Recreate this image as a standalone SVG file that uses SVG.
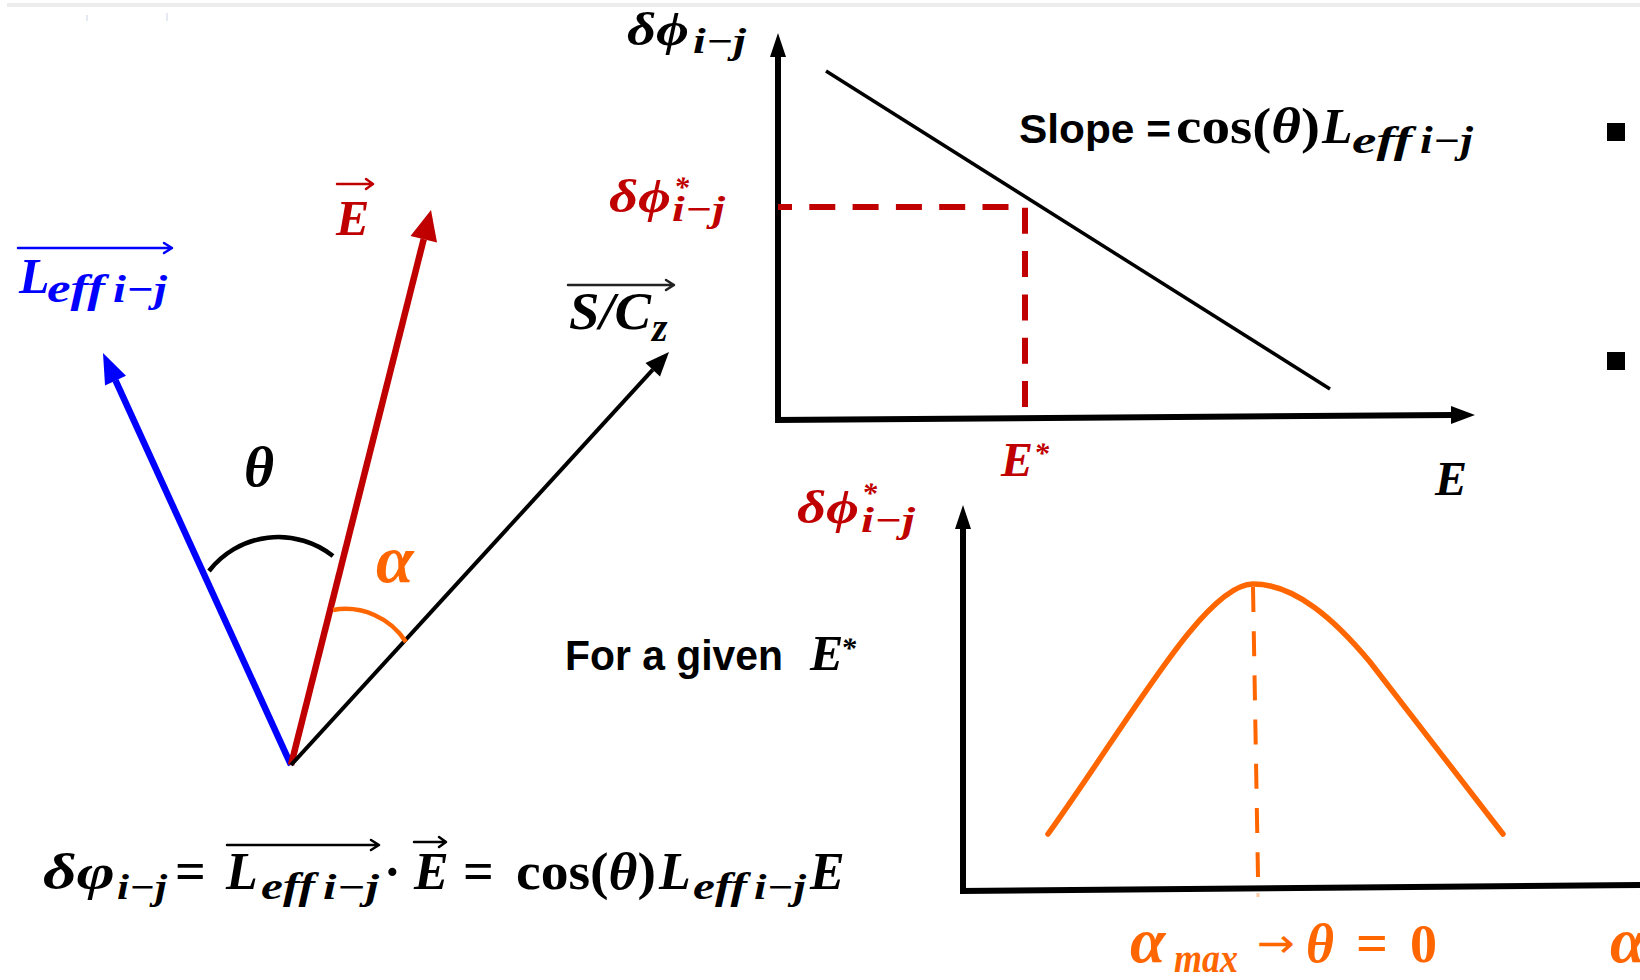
<svg xmlns="http://www.w3.org/2000/svg" width="1640" height="980" viewBox="0 0 1640 980">
<style>
.m{font-family:"Liberation Serif","DejaVu Serif",serif;font-weight:bold;font-style:italic}
.mu{font-family:"Liberation Serif","DejaVu Serif",serif;font-weight:bold;font-style:normal}
.ar{font-family:"DejaVu Sans","Noto Sans",sans-serif;font-weight:normal}
.s{font-family:"Liberation Sans",Arial,sans-serif;font-weight:bold}
.k{fill:#000}
.blue{fill:#0000ff}
.red{fill:#c00000}
.org{fill:#ff6600}
.ov{fill:none;stroke-width:2.5;stroke-linecap:round;stroke-linejoin:round}
.axis{fill:none;stroke:#000;stroke-width:6}
</style>
<rect width="1640" height="980" fill="#fff"/>
<path d="M7,5 H1640" stroke="#ececec" stroke-width="4"/>
<path d="M87,15 v6 M167,13 v8" stroke="#c9d2e4" stroke-width="1"/>

<g id="vectors">
  <g id="vec-leff">
    <line x1="291" y1="765" x2="115.5" y2="380.3" stroke="#0000ff" stroke-width="6.5"/>
    <polygon points="103,353 126,375.7 105,385.5" fill="#0000ff"/>
  </g>
  <g id="vec-e">
    <line x1="291" y1="765" x2="423.7" y2="239.1" stroke="#c00000" stroke-width="6.5"/>
    <polygon points="431,210 437,242.5 410.5,236" fill="#c00000"/>
  </g>
  <g id="vec-sc">
    <line x1="291" y1="765" x2="652.8" y2="369.7" stroke="#000" stroke-width="4"/>
    <polygon points="669,352 660,376.5 645.5,363" fill="#000"/>
  </g>
  <path id="arc-theta" d="M209,571 A88,88 0 0 1 333,556" fill="none" stroke="#000" stroke-width="4.5"/>
  <path id="arc-alpha" d="M333,610 A72,72 0 0 1 406,642" fill="none" stroke="#ff6600" stroke-width="4.5"/>
</g>

<g id="labels-left">
  <g id="lbl-leff">
    <path class="ov" stroke="#0000ff" d="M18,248 H171 M164,243 L172,248 L164,253"/>
    <text class="m blue" x="19" y="293" font-size="50">L</text>
    <text class="m blue" x="47" y="302" font-size="40" textLength="58" lengthAdjust="spacingAndGlyphs">eff</text>
    <text class="m blue" x="113" y="302" font-size="38" textLength="54" lengthAdjust="spacingAndGlyphs">i−j</text>
  </g>
  <g id="lbl-e">
    <path class="ov" stroke="#c00000" d="M337,184 H372 M366,179 L373,184 L366,189"/>
    <text class="m red" x="336" y="235" font-size="50">E</text>
  </g>
  <g id="lbl-sc">
    <path class="ov" stroke="#222" d="M568,285 H673 M666,280 L674,285 L666,290"/>
    <text class="m k" x="569" y="329" font-size="52" textLength="82" lengthAdjust="spacingAndGlyphs">S/C</text>
    <text class="m k" x="652" y="341" font-size="40">z</text>
  </g>
  <text id="lbl-theta" class="m k" x="259" y="486" font-size="58" text-anchor="middle">θ</text>
  <text id="lbl-alpha" class="m org" x="376" y="582" font-size="68">α</text>
</g>

<g id="chart-top">
  <path class="axis" d="M778,421 V54"/>
  <polygon points="778,33 786,57 770,57" fill="#000"/>
  <path class="axis" d="M775,420 L1453,415"/>
  <polygon points="1475,415 1451,406 1451,424" fill="#000"/>
  <line x1="826" y1="71" x2="1330" y2="389" stroke="#000" stroke-width="3.5"/>
  <path d="M1025,407 V207 H778" fill="none" stroke="#c00000" stroke-width="6" stroke-dasharray="26 17.3"/>
  <g id="lbl-dphi-top">
    <text class="m k" x="627" y="45" font-size="46" textLength="62" lengthAdjust="spacingAndGlyphs">δϕ</text>
    <text class="m k" x="693" y="53" font-size="36" textLength="53" lengthAdjust="spacingAndGlyphs">i−j</text>
  </g>
  <g id="lbl-dphistar-top">
    <text class="m red" x="609" y="212" font-size="46" textLength="62" lengthAdjust="spacingAndGlyphs">δϕ</text>
    <text class="m red" x="674" y="197" font-size="30">*</text>
    <text class="m red" x="672" y="221" font-size="36" textLength="53" lengthAdjust="spacingAndGlyphs">i−j</text>
  </g>
  <g id="lbl-slope">
    <text class="s k" x="1019" y="143" font-size="41" textLength="152" lengthAdjust="spacingAndGlyphs">Slope =</text>
    <text class="mu k" x="1176" y="143" font-size="50" textLength="144" lengthAdjust="spacingAndGlyphs">cos(<tspan font-style="italic">θ</tspan>)</text>
    <text class="m k" x="1322" y="143" font-size="50">L</text>
    <text class="m k" x="1352" y="153" font-size="38" textLength="60" lengthAdjust="spacingAndGlyphs">eff</text>
    <text class="m k" x="1420" y="153" font-size="37" textLength="53" lengthAdjust="spacingAndGlyphs">i−j</text>
  </g>
  <g id="lbl-estar">
    <text class="m red" x="1001" y="476" font-size="48">E</text>
    <text class="m red" x="1034" y="463" font-size="30">*</text>
  </g>
  <text id="lbl-e-axis" class="m k" x="1435" y="495" font-size="48">E</text>
</g>

<g id="given">
  <text class="s k" x="565" y="670" font-size="43" textLength="218" lengthAdjust="spacingAndGlyphs">For a given</text>
  <text class="m k" x="810" y="670" font-size="50">E</text>
  <text class="m k" x="841" y="658" font-size="30">*</text>
</g>

<g id="chart-bottom">
  <path class="axis" d="M963,891 V526"/>
  <polygon points="963,505 971,529 955,529" fill="#000"/>
  <path class="axis" d="M960,891 L1640,885" stroke-width="7"/>
  <path d="M1048,834 C1130,720 1205,584 1253,584 C1295,584 1335,620 1370,662 L1503,834" fill="none" stroke="#ff6600" stroke-width="5.5" stroke-linecap="round" stroke-linejoin="round"/>
  <path d="M1253,587 L1258,877" stroke="#ff6600" stroke-width="4" stroke-dasharray="25 19.2"/>
  <path d="M1258,893 V897" stroke="#ff6600" stroke-opacity="0.35" stroke-width="3"/>
  <g id="lbl-dphistar-bottom">
    <text class="m red" x="797" y="523" font-size="46" textLength="62" lengthAdjust="spacingAndGlyphs">δϕ</text>
    <text class="m red" x="862" y="503" font-size="30">*</text>
    <text class="m red" x="861" y="532" font-size="36" textLength="54" lengthAdjust="spacingAndGlyphs">i−j</text>
  </g>
  <g id="lbl-alphamax">
    <text class="m org" x="1130" y="962" font-size="64">α</text>
    <text class="m org" x="1174" y="972" font-size="40" textLength="64" lengthAdjust="spacingAndGlyphs">max</text>
    <text class="ar org" x="1257" y="957" font-size="40" textLength="38" lengthAdjust="spacingAndGlyphs">→</text>
    <text class="m org" x="1306" y="962" font-size="54">θ</text>
    <text class="mu org" x="1356" y="962" font-size="56">=</text>
    <text class="mu org" x="1410" y="962" font-size="54">0</text>
  </g>
  <text id="lbl-alpha-axis" class="m org" x="1610" y="962" font-size="64">α</text>
</g>

<g id="equation">
  <text class="m k" x="43" y="889" font-size="50" textLength="72" lengthAdjust="spacingAndGlyphs">δφ</text>
  <text class="m k" x="117" y="899" font-size="36" textLength="50" lengthAdjust="spacingAndGlyphs">i−j</text>
  <text class="mu k" x="175" y="889" font-size="54">=</text>
  <path class="ov" stroke="#000" d="M227,845 H378 M371,840 L379,845 L371,850"/>
  <text class="m k" x="226" y="889" font-size="52">L</text>
  <text class="m k" x="261" y="899" font-size="38" textLength="54" lengthAdjust="spacingAndGlyphs">eff</text>
  <text class="m k" x="323" y="899" font-size="36" textLength="56" lengthAdjust="spacingAndGlyphs">i−j</text>
  <text class="mu k" x="384" y="889" font-size="50">·</text>
  <path class="ov" stroke="#000" d="M414,842 H445 M439,837 L446,842 L439,847"/>
  <text class="m k" x="414" y="889" font-size="52">E</text>
  <text class="mu k" x="463" y="889" font-size="54">=</text>
  <text class="mu k" x="516" y="889" font-size="52" textLength="140" lengthAdjust="spacingAndGlyphs">cos(<tspan font-style="italic">θ</tspan>)</text>
  <text class="m k" x="659" y="889" font-size="52">L</text>
  <text class="m k" x="693" y="899" font-size="38" textLength="54" lengthAdjust="spacingAndGlyphs">eff</text>
  <text class="m k" x="754" y="899" font-size="36" textLength="52" lengthAdjust="spacingAndGlyphs">i−j</text>
  <text class="m k" x="810" y="889" font-size="52">E</text>
</g>

<g id="bullets">
  <rect x="1607" y="123" width="18" height="18" fill="#000"/>
  <rect x="1607" y="352" width="18" height="18" fill="#000"/>
</g>
</svg>
